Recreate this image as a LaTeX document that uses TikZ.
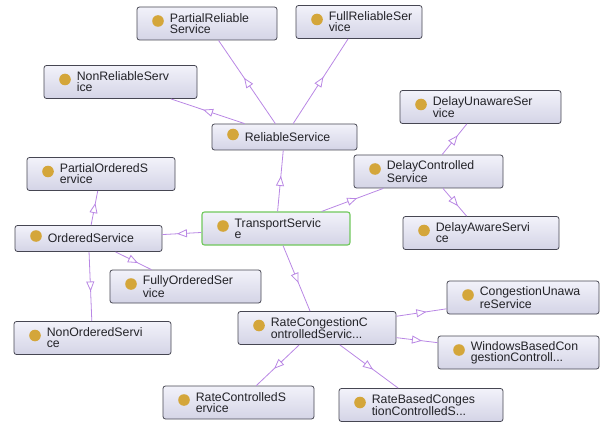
\documentclass[tikz,border=0pt]{standalone}
\usepackage{fontspec}
\setmainfont{Liberation Sans}
\usetikzlibrary{arrows.meta, decorations.markings}
\definecolor{isapurple}{RGB}{185,135,228}
\definecolor{boxline}{RGB}{70,70,82}
\definecolor{boxtop}{RGB}{242,242,250}
\definecolor{boxbot}{RGB}{212,212,230}
\definecolor{dotgold}{RGB}{212,166,58}
\definecolor{selgreen}{RGB}{112,200,92}
\definecolor{txtgray}{RGB}{35,35,40}

\begin{document}
\begin{tikzpicture}[x=1pt, y=-1pt, font=\fontsize{12.3pt}{10.8pt}\selectfont,
       cls/.style={draw=boxline, line width=0.8pt, rounded corners=2.5pt,
                   top color=boxtop, bottom color=boxbot, minimum height=33pt, inner sep=0pt,
                   path picture={\fill[dotgold] ([xshift=21pt, yshift=2.5pt]path picture bounding box.west) circle (5.8pt);}},
       one/.style={minimum height=26pt},
       nm/.style={anchor=west, xshift=33pt, align=left, inner sep=0pt, text=txtgray},
       isa/.style={isapurple, line width=0.8pt, postaction={decorate},
                   decoration={markings, mark=at position 0.5 with
                     {\arrow[xshift=5pt]{Triangle[open, fill=white, length=10pt, width=8pt]}}}}]
     \useasboundingbox (0,0) rectangle (600,425);
     \node[cls, minimum width=140pt, label={[nm]west:PartialReliable\\Service}] (prel) at (207,23.5) {};
     \node[cls, minimum width=126pt, label={[nm]west:FullReliableSer\\vice}] (frel) at (359,22) {};
     \node[cls, minimum width=153pt, label={[nm]west:NonReliableServ\\ice}] (nrel) at (120.5,82) {};
     \node[cls, one, minimum width=145pt, label={[nm]west:ReliableService}] (rel) at (284.5,137) {};
     \node[cls, minimum width=161pt, label={[nm]west:DelayUnawareSer\\vice}] (dun) at (480.5,107) {};
     \node[cls, minimum width=149pt, label={[nm]west:DelayControlled\\Service}] (dcon) at (428.5,171.5) {};
     \node[cls, minimum width=156pt, label={[nm]west:DelayAwareServi\\ce}] (daw) at (481,233) {};
     \node[cls, minimum width=148pt, label={[nm]west:PartialOrderedS\\ervice}] (pord) at (101,174) {};
     \node[cls, one, minimum width=147pt, label={[nm]west:OrderedService}] (ord) at (88.5,238.5) {};
     \node[cls, draw=selgreen, line width=1.1pt, minimum width=148pt,
           label={[nm]west:TransportServic\\e}] (trans) at (276,228.5) {};
     \node[cls, minimum width=151pt, label={[nm]west:FullyOrderedSer\\vice}] (ford) at (185.5,286.5) {};
     \node[cls, minimum width=157pt, label={[nm]west:NonOrderedServi\\ce}] (nord) at (92.5,338) {};
     \node[cls, minimum width=158pt, label={[nm]west:RateCongestionC\\ontrolledServic...}] (rcc) at (317,328) {};
     \node[cls, minimum width=152pt, label={[nm]west:CongestionUnawa\\reService}] (cun) at (523,297.5) {};
     \node[cls, minimum width=161pt, label={[nm]west:WindowsBasedCon\\gestionControll...}] (wbc) at (518.5,352.5) {};
     \node[cls, minimum width=151pt, label={[nm]west:RateControlledS\\ervice}] (rctl) at (238.5,402.5) {};
     \node[cls, minimum width=164pt, label={[nm]west:RateBasedConges\\tionControlledS...}] (rbc) at (421,405) {};
     \draw[isa] (rel) -- (prel);
     \draw[isa] (rel) -- (frel);
     \draw[isa] (rel) -- (nrel);
     \draw[isa] (trans) -- (rel);
     \draw[isa] (trans) -- (dcon);
     \draw[isa] (dcon) -- (dun);
     \draw[isa] (dcon) -- (daw);
     \draw[isa] (trans) -- (ord);
     \draw[isa] (ord) -- (pord);
     \draw[isa] (ord) -- (ford);
     \draw[isa] (ord) -- (nord);
     \draw[isa] (trans) -- (rcc);
     \draw[isa] (rcc) -- (cun);
     \draw[isa] (rcc) -- (wbc);
     \draw[isa] (rcc) -- (rctl);
     \draw[isa] (rcc) -- (rbc);
   \end{tikzpicture}
\end{document}
